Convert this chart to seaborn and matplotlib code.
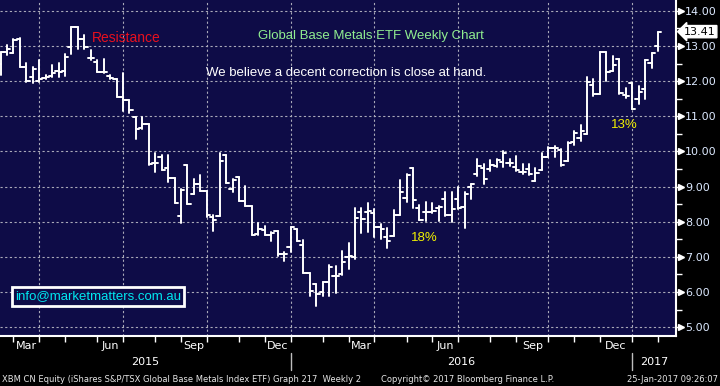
import numpy as np
import pandas as pd
import matplotlib
matplotlib.use('Agg')
import matplotlib.pyplot as plt
import seaborn as sns

# XBM CN weekly bars (Feb 2015 - Jan 2017)
dates = pd.date_range(end='2017-01-27', periods=103, freq='W-FRI')
opens = [12.50, 12.82, 12.79, 13.20, 12.41, 12.13, 12.00, 12.10, 12.15, 12.30,
         12.28, 12.98, 13.53, 13.20, 12.65, 12.55, 12.25, 12.15, 12.05, 11.54,
         11.46, 10.97, 10.68, 10.78, 9.66, 9.83, 9.53, 9.24, 8.16, 9.61,
         8.80, 9.08, 8.87, 8.13, 8.16, 9.90, 8.93, 9.26, 8.60, 8.44,
         7.65, 7.77, 7.63, 7.73, 7.09, 7.28, 7.80, 7.34, 6.55, 6.22,
         6.00, 6.30, 6.47, 6.50, 7.01, 6.99, 8.29, 8.29, 8.24, 7.84,
         7.56, 7.59, 8.19, 8.67, 9.52, 8.38, 8.27, 8.29, 8.38, 8.65,
         8.19, 8.65, 8.41, 8.98, 9.36, 9.52, 9.50, 9.60, 9.69, 9.66,
         9.55, 9.42, 9.50, 9.16, 9.47, 9.85, 10.09, 10.03, 9.72, 10.26,
         10.37, 10.50, 11.88, 11.63, 12.82, 12.29, 12.62, 11.60, 11.96, 11.49,
         11.79, 12.52, 12.99]
highs = [12.84, 13.03, 13.20, 13.22, 12.51, 12.39, 12.60, 12.17, 12.45, 12.52,
         12.78, 13.53, 13.55, 13.31, 12.89, 12.60, 12.62, 12.18, 12.05, 12.24,
         11.46, 10.97, 10.97, 10.78, 9.95, 9.90, 9.89, 9.24, 8.94, 9.62,
         9.22, 9.34, 8.87, 8.20, 9.96, 9.90, 9.23, 9.26, 9.03, 8.44,
         7.96, 7.89, 7.72, 7.73, 7.13, 7.86, 7.80, 7.49, 6.55, 6.23,
         6.28, 6.77, 6.73, 7.17, 7.39, 8.38, 8.38, 8.53, 8.36, 7.94,
         7.81, 8.33, 9.20, 9.36, 9.52, 8.49, 8.55, 8.53, 8.44, 8.86,
         8.84, 9.00, 8.84, 9.07, 9.80, 9.64, 9.76, 9.80, 10.02, 9.78,
         9.86, 9.64, 9.64, 9.52, 9.97, 10.14, 10.16, 10.07, 10.26, 10.58,
         10.76, 12.13, 12.05, 12.82, 12.82, 12.71, 12.62, 11.82, 11.96, 11.85,
         12.60, 12.79, 13.41]
lows = [12.18, 12.74, 12.79, 12.41, 11.99, 11.94, 11.97, 12.05, 12.12, 12.13,
        12.15, 12.78, 12.93, 12.93, 12.60, 12.25, 12.24, 12.05, 11.54, 11.16,
        11.10, 10.35, 10.63, 9.62, 9.43, 9.47, 9.13, 8.54, 7.96, 8.50,
        8.80, 8.87, 8.13, 7.75, 8.16, 9.11, 8.84, 8.60, 8.44, 7.63,
        7.61, 7.63, 7.44, 7.04, 6.87, 7.13, 7.46, 6.55, 5.90, 5.60,
        5.90, 5.90, 5.97, 6.49, 6.66, 6.94, 7.67, 7.70, 7.56, 7.51,
        7.25, 7.59, 8.19, 8.55, 8.39, 8.06, 8.03, 8.25, 8.03, 8.17,
        8.00, 8.36, 7.81, 8.65, 9.31, 9.07, 9.45, 9.55, 9.57, 9.60,
        9.45, 9.36, 9.33, 9.16, 9.47, 9.85, 9.85, 9.60, 9.72, 10.18,
        10.30, 10.50, 11.58, 11.63, 12.01, 12.29, 11.63, 11.52, 11.21, 11.35,
        11.49, 12.38, 12.85]
closes = [12.82, 12.91, 13.17, 12.41, 12.01, 12.34, 12.05, 12.12, 12.22, 12.25,
          12.70, 13.53, 13.20, 12.98, 12.65, 12.25, 12.27, 12.08, 11.54, 11.46,
          11.18, 10.63, 10.78, 9.64, 9.68, 9.47, 9.24, 8.54, 8.91, 8.50,
          9.08, 8.87, 8.18, 8.06, 9.72, 9.11, 9.20, 8.60, 8.44, 7.63,
          7.80, 7.63, 7.68, 7.09, 7.07, 7.84, 7.46, 6.55, 6.02, 5.95,
          6.28, 6.71, 6.47, 6.85, 7.04, 8.10, 8.08, 8.31, 7.84, 7.80,
          7.44, 8.19, 8.84, 9.33, 8.63, 8.06, 8.27, 8.31, 8.41, 8.19,
          8.36, 8.38, 8.79, 9.07, 9.60, 9.23, 9.62, 9.76, 9.95, 9.66,
          9.48, 9.42, 9.36, 9.40, 9.85, 10.09, 10.09, 9.62, 10.24, 10.54,
          10.59, 11.97, 11.63, 12.82, 12.26, 12.46, 11.65, 11.58, 11.21, 11.68,
          12.60, 12.79, 13.41]

price_ticks = np.arange(5, 15)
notes = {
    'title': 'Global Base Metals ETF Weekly Chart',
    'view': 'We believe a decent correction is close at hand.',
    'res': 'Resistance',
    'dip1': '18%',
    'dip2': '13%',
    'mail': 'info@marketmatters.com.au',
}
footer_left = 'XBM CN Equity (iShares S&P/TSX Global Base Metals Index ETF) Graph 217  Weekly 2'
footer_mid = 'Copyright\u00a9 2017 Bloomberg Finance L.P.'
footer_right = '25-Jan-2017 09:26:07'

NAVY = '#0e0c47'
GRID = '#a9a9b8'
LABEL = '#dce9ff'

sns.set_theme(style='dark')
plt.rcParams['font.family'] = ['DejaVu Sans']

# bloomberg uses an ordinal axis: one slot per weekly bar
idx = np.arange(len(dates))
n = len(idx)

# segments for the OHLC bars (high-low line, open tick left, close tick right)
segs = pd.concat([
    pd.DataFrame({'x': np.repeat(idx, 2), 'y': np.column_stack([lows, highs]).ravel(),
                  'seg': np.repeat(idx, 2)}),
    pd.DataFrame({'x': np.column_stack([idx - 0.5, idx]).ravel(), 'y': np.repeat(opens, 2),
                  'seg': np.repeat(idx + n, 2)}),
    pd.DataFrame({'x': np.column_stack([idx, idx + 0.5]).ravel(), 'y': np.repeat(closes, 2),
                  'seg': np.repeat(idx + 2 * n, 2)}),
], ignore_index=True)

fig = plt.figure(figsize=(7.2, 3.86), dpi=100, facecolor='black')
ax = fig.add_axes([0, 50 / 386, 676 / 720, 336 / 386])
ax.set_facecolor(NAVY)

sns.lineplot(data=segs, x='x', y='y', units='seg', estimator=None, sort=False,
             color='white', lw=1.4, ax=ax, legend=False)

# month / quarter positions: last bar before the month starts
def slot_before(day):
    return idx[dates < day][-1]

months = pd.date_range('2015-03-01', '2017-02-01', freq='MS')
month_pos = [slot_before(m) for m in months]
quarters = [m for m in months if m.month in (1, 4, 7, 10)]
quarter_pos = [slot_before(q) for q in quarters]

ax.set_xlim(-0.08, 104.8)
ax.set_ylim(4.75, 14.31)
ax.set_xlabel('')
ax.set_ylabel('')

ax.set_xticks(quarter_pos)
ax.set_xticks(month_pos, minor=True)
ax.set_xticklabels([])
ax.tick_params(axis='x', which='both', length=4, width=1, color='white',
               direction='out', bottom=True, labelbottom=False)

ax.yaxis.tick_right()
ax.set_yticks(price_ticks)
ax.set_yticks(price_ticks[:-1] + 0.5, minor=True)
ax.set_yticklabels([f'{v:.2f}' for v in price_ticks])
ax.tick_params(axis='y', which='major', length=2, width=1, color='white', pad=4.5,
               labelsize=8, labelcolor=LABEL, right=True)
ax.tick_params(axis='y', which='minor', length=4, width=1, color='white', right=True)
ax.plot(np.full(len(price_ticks), 1 + 5 / 676), price_ticks, ls='none', marker='>',
        ms=5, color='white', transform=ax.get_yaxis_transform(), clip_on=False)

ax.grid(True, which='major', axis='both', color=GRID, ls=(0, (2, 2.2)), lw=0.8)
for side in ('left', 'top'):
    ax.spines[side].set_visible(False)
for side in ('bottom', 'right'):
    ax.spines[side].set_visible(True)
    ax.spines[side].set_color('white')
    ax.spines[side].set_linewidth(1.5)

# last price flag
ax.text(1 + 8 / 676, closes[-1], f'{closes[-1]:.2f}', transform=ax.get_yaxis_transform(),
        ha='left', va='center', fontsize=8, color='black', clip_on=False,
        bbox=dict(boxstyle='larrow,pad=0.1', fc='white', ec='white'))

# month and year labels under the axis
xt = ax.get_xaxis_transform()
edges = month_pos
for m, a, b in zip(months[:-1], edges[:-1], edges[1:]):
    if m.month in (3, 6, 9, 12):
        ax.text((a + b) / 2, -0.03, m.strftime('%b'), transform=xt, ha='center',
                va='center', color='white', fontsize=8, clip_on=False)
year_edges = [ax.get_xlim()[0]] + [p for q, p in zip(quarters, quarter_pos) if q.month == 1] + [ax.get_xlim()[1]]
for yr, a, b in zip([2015, 2016, 2017], year_edges[:-1], year_edges[1:]):
    ax.text((a + b) / 2, -0.078, str(yr), transform=xt, ha='center', va='center',
            color='white', fontsize=8, clip_on=False)
for p in year_edges[1:-1]:
    ax.plot([p, p], [-0.05, -0.10], transform=xt, color='#bdbdbd', lw=1, clip_on=False)

# chart notes
arial = ['Liberation Sans', 'DejaVu Sans']
ax.text(14.1, 13.23, notes['res'], color='#e8101e', fontsize=10, family=arial,
        ha='left', va='center')
ax.text(57.4, 13.29, notes['title'], color='#90ee90', fontsize=9.5, family=arial,
        ha='center', va='center')
ax.text(53.6, 12.24, notes['view'], color='white', fontsize=9.5, family=arial,
        ha='center', va='center')
ax.text(65.7, 7.54, notes['dip1'], color='#f2f200', fontsize=9.5, family=arial,
        ha='center', va='center')
ax.text(96.8, 10.76, notes['dip2'], color='#f2f200', fontsize=9.5, family=arial,
        ha='center', va='center')
ax.text(15.1, 5.88, notes['mail'], color='#00e8f0', fontsize=9.5, family=arial,
        ha='center', va='center',
        bbox=dict(boxstyle='square,pad=0.25', fc=NAVY, ec='white', lw=2))

# footer
fig.text(0.003, 0.018, footer_left, color='#e6e6e6', fontsize=6, va='center', ha='left')
fig.text(468 / 720, 0.018, footer_mid, color='#e6e6e6', fontsize=6, va='center', ha='center')
fig.text(0.997, 0.018, footer_right, color='#e6e6e6', fontsize=6, va='center', ha='right')

fig.savefig('out.png', dpi=100, facecolor='black')
